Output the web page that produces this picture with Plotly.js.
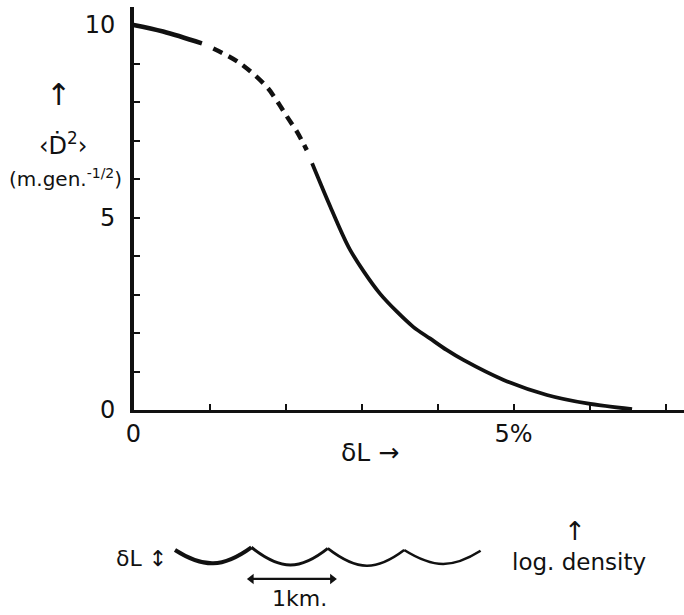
<!DOCTYPE html>
<html>
<head>
<meta charset="utf-8">
<script src="https://cdn.plot.ly/plotly-3.0.1.min.js"></script>
<style>html,body{margin:0;padding:0;background:#fff;}#chart{width:684px;height:615px;}</style>
</head>
<body>
<div id="chart"></div>
<script>
// Main curve: <D^2> versus deltaL (%)
const curveSolidX = [0, 0.39, 0.90];
const curveSolidY = [10.0, 9.83, 9.52];
const curveDashX = [1.05, 1.40, 1.75, 1.88, 2.02, 2.15, 2.28];
const curveDashY = [9.39, 9.01, 8.40, 8.05, 7.62, 7.23, 6.75];
const curveLowX = [2.35, 2.59, 2.85, 3.24, 3.68, 3.90, 4.12, 4.34, 4.87, 5.44, 5.97, 6.56];
const curveLowY = [6.41, 5.28, 4.16, 3.03, 2.16, 1.86, 1.56, 1.30, 0.78, 0.39, 0.17, 0.02];

// Axis ticks / labels
const xTickVals = [0, 5];
const xTickText = ['0', '5%'];
const yTickVals = [0, 5, 10];
const yTickText = ['0', '5', '10'];

// Schematic: log density along distance (km)
const arcEdgeKm = [0, 1, 2, 3, 4];
const arcEdgeLevel = [0, 0.18, 0.11, 0, -0.05];
const arcLowKm = [0.5, 1.51, 2.51, 3.51];
const arcLowLevel = [-0.89, -1.0, -1.05, -0.93];
const kmBarKm = [1.0, 2.06];
const kmBarLevel = [-1.93, -1.93];

const FONT = 'DejaVu Sans, Liberation Sans, sans-serif';
const BLACK = '#111';

const traces = [
  {x: curveSolidX, y: curveSolidY, mode: 'lines', line: {color: BLACK, width: 4.5, shape: 'spline'}, xaxis: 'x', yaxis: 'y', hoverinfo: 'skip'},
  {x: curveDashX, y: curveDashY, mode: 'lines', line: {color: BLACK, width: 4.5, shape: 'spline', dash: '10px,7px'}, xaxis: 'x', yaxis: 'y', hoverinfo: 'skip'},
  {x: curveLowX, y: curveLowY, mode: 'lines', line: {color: BLACK, width: 3.8, shape: 'spline', smoothing: 0.8}, xaxis: 'x', yaxis: 'y', hoverinfo: 'skip'}
];
const arcWidths = [4, 3, 2.6, 2.6];
for (let i = 0; i < arcLowKm.length; i++) {
  traces.push({
    x: [arcEdgeKm[i], arcLowKm[i], arcEdgeKm[i + 1]],
    y: [arcEdgeLevel[i], arcLowLevel[i], arcEdgeLevel[i + 1]],
    mode: 'lines', line: {color: BLACK, width: arcWidths[i], shape: 'spline', smoothing: 1.3},
    xaxis: 'x2', yaxis: 'y2', hoverinfo: 'skip'
  });
}
// 1 km double-headed arrow
traces.push({
  x: kmBarKm, y: kmBarLevel, mode: 'lines+markers',
  line: {color: BLACK, width: 2.2},
  marker: {symbol: ['triangle-left', 'triangle-right'], size: 9, color: BLACK},
  xaxis: 'x2', yaxis: 'y2', hoverinfo: 'skip'
});

const W = 684, H = 615;
const px = v => v / W;
const py = v => (H - v) / H;

const annotations = [
  // y-axis title pieces
  {xref: 'paper', yref: 'paper', x: px(58), y: py(95), text: '↑', showarrow: false,
   font: {family: FONT, size: 30, color: BLACK}, xanchor: 'center', yanchor: 'middle'},
  {xref: 'paper', yref: 'paper', x: px(63), y: py(144), text: '‹Ḋ<sup>2</sup>›', showarrow: false,
   font: {family: FONT, size: 24, color: BLACK}, xanchor: 'center', yanchor: 'middle'},
  {xref: 'paper', yref: 'paper', x: px(65), y: py(178), text: '(m.gen.<sup>-1/2</sup>)', showarrow: false,
   font: {family: FONT, size: 20, color: BLACK}, xanchor: 'center', yanchor: 'middle'},
  // x-axis title
  {xref: 'paper', yref: 'paper', x: px(370), y: py(452), text: 'δL →', showarrow: false,
   font: {family: FONT, size: 25, color: BLACK}, xanchor: 'center', yanchor: 'middle'},
  // schematic labels
  {xref: 'paper', yref: 'paper', x: px(141), y: py(558), text: 'δL ↕', showarrow: false,
   font: {family: FONT, size: 22, color: BLACK}, xanchor: 'center', yanchor: 'middle'},
  {xref: 'paper', yref: 'paper', x: px(299), y: py(598), text: '1km.', showarrow: false,
   font: {family: FONT, size: 22, color: BLACK}, xanchor: 'center', yanchor: 'middle'},
  {xref: 'paper', yref: 'paper', x: px(579), y: py(562), text: 'log. density', showarrow: false,
   font: {family: FONT, size: 23, color: BLACK}, xanchor: 'center', yanchor: 'middle'},
  {xref: 'paper', yref: 'paper', x: px(575), y: py(531), text: '↑', showarrow: false,
   font: {family: FONT, size: 26, color: BLACK}, xanchor: 'center', yanchor: 'middle'}
];

const layout = {
  width: W, height: H,
  margin: {l: 0, r: 0, t: 0, b: 0},
  paper_bgcolor: '#fff', plot_bgcolor: 'rgba(0,0,0,0)',
  showlegend: false,
  font: {family: FONT, color: BLACK},
  xaxis: {
    domain: [133.5 / W, 1], range: [0, (W - 133.5) / 76], anchor: 'y',
    showgrid: false, zeroline: false, showline: true, linecolor: BLACK, linewidth: 3,
    tickmode: 'array', tickvals: xTickVals, ticktext: xTickText,
    ticks: 'inside', ticklen: 6, tickwidth: 2, tickcolor: BLACK, ticklabelstandoff: 0,
    tickfont: {family: FONT, size: 24, color: BLACK},
    minor: {tickmode: 'linear', tick0: 0, dtick: 1, ticks: 'inside', ticklen: 6, tickwidth: 2, tickcolor: BLACK, showgrid: false},
    fixedrange: true
  },
  yaxis: {
    domain: [(H - 410) / H, (H - 7) / H], range: [0, (410 - 7) / 38.5], anchor: 'x',
    showgrid: false, zeroline: false, showline: true, linecolor: BLACK, linewidth: 3.5,
    tickmode: 'array', tickvals: yTickVals, ticktext: yTickText,
    ticks: 'inside', ticklen: 6, tickwidth: 2, tickcolor: BLACK, ticklabelstandoff: 10,
    tickfont: {family: FONT, size: 24, color: BLACK},
    minor: {tickmode: 'linear', tick0: 0, dtick: 1, ticks: 'inside', ticklen: 6, tickwidth: 2, tickcolor: BLACK, showgrid: false},
    fixedrange: true
  },
  xaxis2: {
    domain: [0, 1], range: [-175 / 76.4, (W - 175) / 76.4], anchor: 'y2',
    visible: false, fixedrange: true
  },
  yaxis2: {
    domain: [0, 0.2], range: [(550 - 615) / 15, (550 - (H - 0.2 * H)) / 15], anchor: 'x2',
    visible: false, fixedrange: true
  },
  annotations: annotations
};

Plotly.newPlot('chart', traces, layout, {displayModeBar: false, staticPlot: true});
</script>
</body>
</html>
